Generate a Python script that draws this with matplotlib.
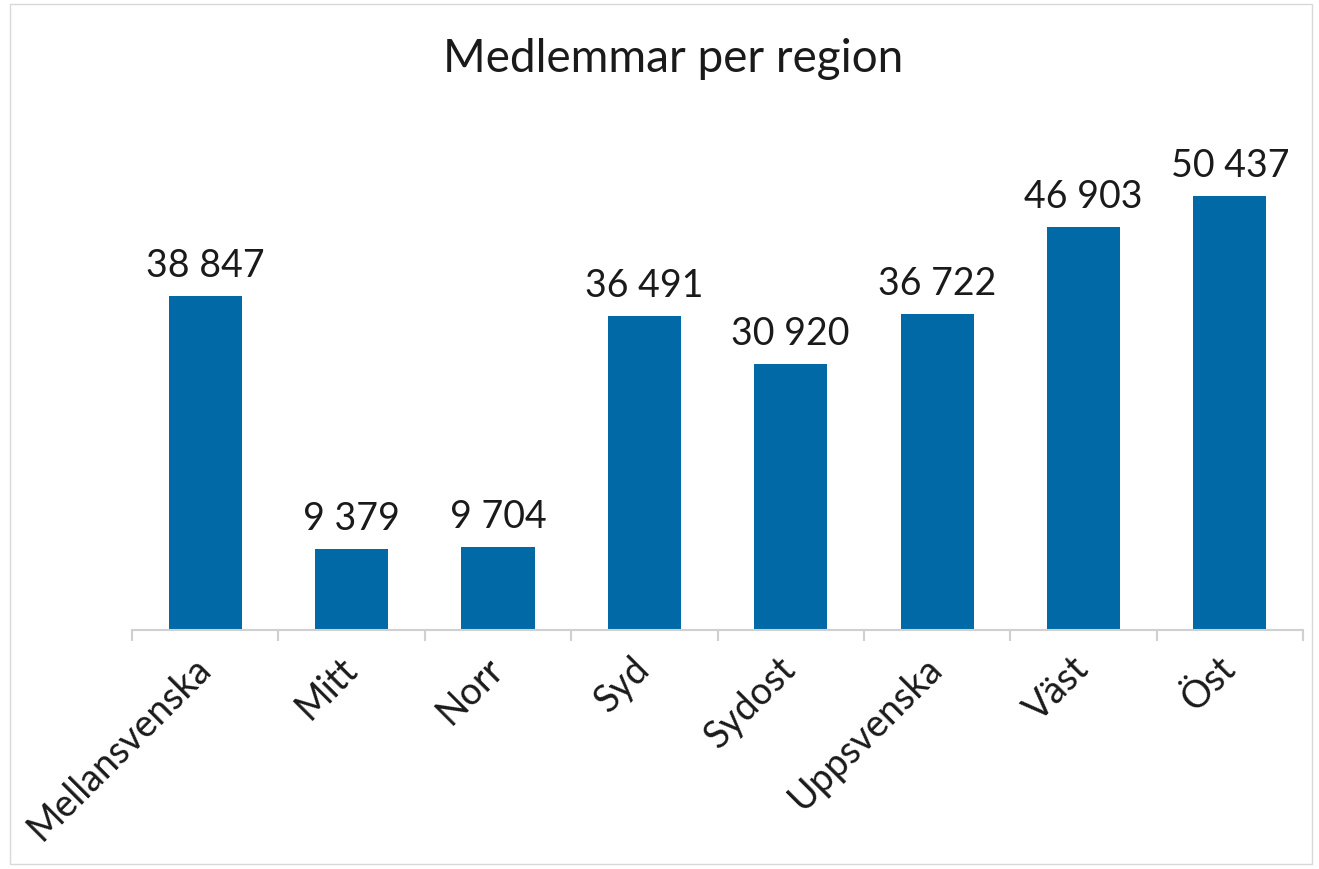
import numpy as np
import matplotlib.pyplot as plt

# data
regions = ['Mellansvenska', 'Mitt', 'Norr', 'Syd', 'Sydost', 'Uppsvenska', 'Väst', 'Öst']
members = [38847, 9379, 9704, 36491, 30920, 36722, 46903, 50437]

plt.rcParams['font.family'] = ['Lato', 'DejaVu Sans']

fig = plt.figure(figsize=(13.19, 8.7), dpi=100)
# light chart border
fig.patches.append(plt.Rectangle((10 / 1319, 5 / 870), 1302 / 1319, 860 / 870,
                                 transform=fig.transFigure, fill=False,
                                 edgecolor='#d9d9d9', linewidth=1))
ax = fig.add_axes([0.1001, 0.2747, 0.8878, 0.5931])

x = np.arange(len(regions))
ax.bar(x, members, width=0.5, color='#0069a6')

for xi, v in zip(x, members):
    label = f'{v:,}'.replace(',', ' ')
    ax.text(xi, v + 1500, label, ha='center', va='bottom', fontsize=27, color='#1a1a1a')

ax.set_xlim(-0.5, len(regions) - 0.5)
ax.set_ylim(0, 60000)
ax.set_yticks([])
for s in ['top', 'right', 'left']:
    ax.spines[s].set_visible(False)
ax.spines['bottom'].set_color('#d0d0d0')
ax.spines['bottom'].set_linewidth(1.5)

ax.set_xticks(x - 0.09)
ax.set_xticklabels(regions, rotation=45, ha='right', rotation_mode='anchor',
                   fontsize=27, color='#1a1a1a')
ax.tick_params(axis='x', which='major', length=0, pad=14)
ax.set_xticks(np.arange(-0.5, len(regions)), minor=True)
ax.tick_params(axis='x', which='minor', length=8, color='#d0d0d0', width=1.5)

fig.text(0.51, 0.932, 'Medlemmar per region', ha='center', va='center',
         fontsize=33, color='#1a1a1a')

fig.savefig('out.png', dpi=100)
